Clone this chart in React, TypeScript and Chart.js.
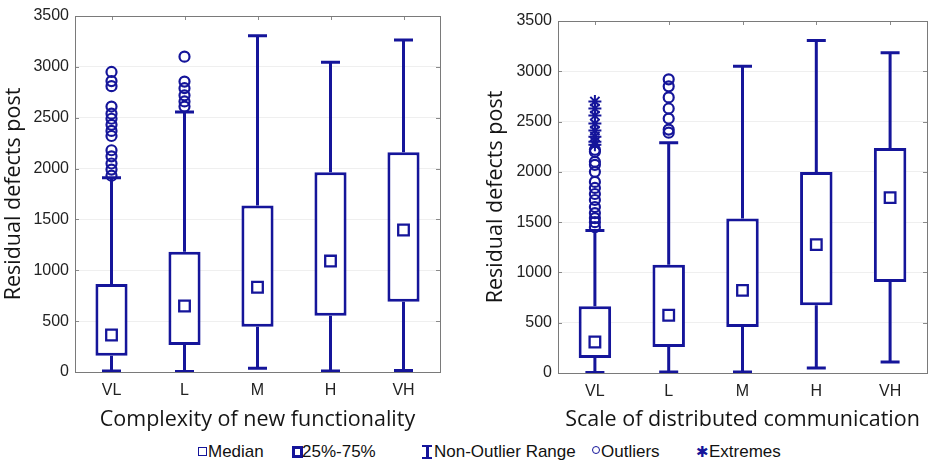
import React, { useEffect, useRef } from 'react';
import { Chart, registerables } from 'chart.js';

Chart.register(...registerables);

// ---------- data ----------
const categories = ['VL', 'L', 'M', 'H', 'VH'];
const yTicks = [0, 500, 1000, 1500, 2000, 2500, 3000, 3500];

// Left: Complexity of new functionality
const complexityQ1 = [160, 265, 446, 554, 691];
const complexityQ3 = [865, 1183, 1636, 1963, 2160];
const complexityMedian = [364, 649, 833, 1091, 1396];
const complexityLow = [10, 5, 36, 10, 15];
const complexityHigh = [1910, 2555, 3307, 3045, 3264];
const complexityOutliersVL = [1930, 1990, 2050, 2120, 2180, 2320, 2370, 2430, 2490, 2540, 2610, 2810, 2860, 2950];
const complexityOutliersL = [2610, 2660, 2720, 2790, 2855, 3100];

// Right: Scale of distributed communication
const commQ1 = [149, 259, 457, 673, 905];
const commQ3 = [663, 1077, 1535, 1998, 2237];
const commMedian = [308, 574, 822, 1276, 1744];
const commLow = [5, 10, 10, 50, 109];
const commHigh = [1418, 2290, 3049, 3307, 3185];
const commOutliersVL = [1450, 1500, 1540, 1590, 1650, 1720, 1780, 1840, 1900, 2000, 2070, 2100, 2200, 2220];
const commExtremesVL = [2270, 2300, 2350, 2410, 2480, 2560, 2630, 2700];
const commOutliersL = [2390, 2420, 2530, 2630, 2740, 2850, 2920];

const BLUE = '#15159a';
const TICK_FONT = 'Liberation Sans, Arial, sans-serif';
const TITLE_FONT = 'Open Sans, sans-serif';

function makeExtras(q1: number[], q3: number[], low: number[], high: number[]) {
  return {
    id: 'boxExtras',
    beforeDatasetsDraw(chart: any) {
      const { ctx, scales } = chart;
      const x = scales.x;
      const y = scales.y;
      ctx.save();
      ctx.strokeStyle = BLUE;
      ctx.lineWidth = 3;
      ctx.lineCap = 'butt';
      for (let i = 0; i < q1.length; i++) {
        const px = x.getPixelForValue(i);
        const yl = y.getPixelForValue(low[i]);
        const yh = y.getPixelForValue(high[i]);
        const y1 = y.getPixelForValue(q1[i]);
        const y3 = y.getPixelForValue(q3[i]);
        ctx.beginPath();
        ctx.moveTo(px, y1);
        ctx.lineTo(px, yl);
        ctx.moveTo(px, y3);
        ctx.lineTo(px, yh);
        ctx.moveTo(px - 9.5, yl);
        ctx.lineTo(px + 9.5, yl);
        ctx.moveTo(px - 9.5, yh);
        ctx.lineTo(px + 9.5, yh);
        ctx.stroke();
      }
      ctx.restore();
    },
    afterDraw(chart: any) {
      const { ctx, chartArea, scales } = chart;
      const x = scales.x;
      const y = scales.y;
      ctx.save();
      ctx.strokeStyle = '#8a8a8a';
      ctx.lineWidth = 1;
      ctx.beginPath();
      for (const v of yTicks) {
        const py = Math.round(y.getPixelForValue(v)) + 0.5;
        ctx.moveTo(chartArea.left, py);
        ctx.lineTo(chartArea.left + 4, py);
        ctx.moveTo(chartArea.right, py);
        ctx.lineTo(chartArea.right - 4, py);
      }
      for (let i = 0; i < categories.length; i++) {
        const px = Math.round(x.getPixelForValue(i)) + 0.5;
        ctx.moveTo(px, chartArea.top);
        ctx.lineTo(px, chartArea.top + 4);
      }
      ctx.stroke();
      ctx.strokeStyle = '#7a7a7a';
      ctx.strokeRect(
        Math.round(chartArea.left) + 0.5,
        Math.round(chartArea.top) + 0.5,
        Math.round(chartArea.right - chartArea.left),
        Math.round(chartArea.bottom - chartArea.top)
      );
      ctx.restore();
    },
  };
}

type PanelProps = {
  xTitle: string;
  q1: number[];
  q3: number[];
  median: number[];
  low: number[];
  high: number[];
  outliers: { x: string; y: number }[];
  extremes: { x: string; y: number }[];
  width: number;
  height: number;
  yAxisWidth: number;
  xAxisHeight: number;
  padTop: number;
  padRight: number;
  yTitlePad: number;
};

function BoxPanel(p: PanelProps) {
  const ref = useRef<HTMLCanvasElement | null>(null);
  useEffect(() => {
    if (!ref.current) return;
    const boxes = p.q1.map((v, i) => [v, p.q3[i]]);
    const chart = new Chart(ref.current, {
      data: {
        labels: categories,
        datasets: [
          {
            type: 'bar',
            data: boxes as any,
            backgroundColor: '#ffffff',
            borderColor: BLUE,
            borderWidth: 3,
            borderSkipped: false,
            barPercentage: 0.44,
            categoryPercentage: 1,
            order: 3,
          } as any,
          {
            type: 'line',
            data: p.median,
            showLine: false,
            pointStyle: 'rect',
            pointRadius: 7.5,
            pointBorderWidth: 2.3,
            pointBorderColor: BLUE,
            pointBackgroundColor: '#ffffff',
            order: 1,
          } as any,
          {
            type: 'line',
            data: p.outliers as any,
            showLine: false,
            pointStyle: 'circle',
            pointRadius: 5,
            pointBorderWidth: 2.2,
            pointBorderColor: BLUE,
            pointBackgroundColor: 'rgba(0,0,0,0)',
            order: 2,
          } as any,
          {
            type: 'line',
            data: p.extremes as any,
            showLine: false,
            pointStyle: 'star',
            pointRadius: 6.5,
            pointBorderWidth: 2,
            pointBorderColor: BLUE,
            pointBackgroundColor: 'rgba(0,0,0,0)',
            order: 2,
          } as any,
        ],
      },
      options: {
        responsive: false,
        animation: false,
        events: [],
        layout: {
          autoPadding: false,
          padding: { top: p.padTop, right: p.padRight, bottom: 0, left: 0 },
        } as any,
        plugins: {
          legend: { display: false },
          tooltip: { enabled: false },
        },
        scales: {
          x: {
            type: 'category',
            offset: true,
            grid: { display: false, drawTicks: false },
            border: { display: false },
            ticks: {
              padding: 9,
              color: '#222',
              font: { family: TICK_FONT, size: 16 },
              maxRotation: 0,
            },
            title: {
              display: true,
              text: p.xTitle,
              color: '#151515',
              font: { family: TITLE_FONT, size: 21.5 },
              padding: { top: 0, bottom: 7 },
            },
            afterFit: (s: any) => {
              s.height = p.xAxisHeight;
            },
          },
          y: {
            type: 'linear',
            min: 0,
            max: 3500,
            grid: { color: '#efefef', drawTicks: false, lineWidth: 1 },
            border: { display: false },
            ticks: {
              stepSize: 500,
              padding: 6,
              color: '#222',
              font: { family: TICK_FONT, size: 16 },
              callback: (v: any) => String(v),
            },
            title: {
              display: true,
              text: 'Residual defects post',
              color: '#151515',
              font: { family: TITLE_FONT, size: 21.5 },
              padding: { top: p.yTitlePad, bottom: 0 },
            },
            afterFit: (s: any) => {
              s.width = p.yAxisWidth;
            },
          },
        },
      } as any,
      plugins: [makeExtras(p.q1, p.q3, p.low, p.high)],
    });
    return () => chart.destroy();
  }, []);
  return <canvas ref={ref} width={p.width} height={p.height} style={{ width: p.width, height: p.height, display: 'block' }} />;
}

const legendText: React.CSSProperties = {
  position: 'absolute',
  top: 441,
  fontFamily: TICK_FONT,
  fontSize: 17,
  lineHeight: '22px',
  color: '#111',
  whiteSpace: 'nowrap',
};

export default function App() {
  const leftOutliers = [
    ...complexityOutliersVL.map((v) => ({ x: 'VL', y: v })),
    ...complexityOutliersL.map((v) => ({ x: 'L', y: v })),
  ];
  const rightOutliers = [
    ...commOutliersVL.map((v) => ({ x: 'VL', y: v })),
    ...commOutliersL.map((v) => ({ x: 'L', y: v })),
  ];
  const rightExtremes = commExtremesVL.map((v) => ({ x: 'VL', y: v }));

  return (
    <div style={{ position: 'fixed', left: 0, top: 0, width: 929, height: 461, background: '#fff', overflow: 'hidden' }}>
      <div style={{ position: 'absolute', left: 0, top: 0 }}>
        <BoxPanel
          xTitle="Complexity of new functionality"
          q1={complexityQ1}
          q3={complexityQ3}
          median={complexityMedian}
          low={complexityLow}
          high={complexityHigh}
          outliers={leftOutliers}
          extremes={[]}
          width={465}
          height={440}
          yAxisWidth={75}
          xAxisHeight={68}
          padTop={16}
          padRight={25}
          yTitlePad={1}
        />
      </div>
      <div style={{ position: 'absolute', left: 480, top: 0 }}>
        <BoxPanel
          xTitle="Scale of distributed communication"
          q1={commQ1}
          q3={commQ3}
          median={commMedian}
          low={commLow}
          high={commHigh}
          outliers={rightOutliers}
          extremes={rightExtremes}
          width={449}
          height={440}
          yAxisWidth={78}
          xAxisHeight={67}
          padTop={21}
          padRight={2}
          yTitlePad={3}
        />
      </div>
      {/* legend */}
      <span style={{ position: 'absolute', left: 198, top: 447, width: 7, height: 7, border: `1.5px solid ${BLUE}` }} />
      <span style={{ ...legendText, left: 208 }}>Median</span>
      <span style={{ position: 'absolute', left: 292, top: 446, width: 5, height: 6, border: `3px solid ${BLUE}` }} />
      <span style={{ ...legendText, left: 302 }}>25%-75%</span>
      <span style={{ position: 'absolute', left: 422, top: 445, width: 10, height: 10, borderTop: `2.5px solid ${BLUE}`, borderBottom: `2.5px solid ${BLUE}` }}>
        <span style={{ position: 'absolute', left: 4, top: 0, width: 2.5, height: 10, background: BLUE }} />
      </span>
      <span style={{ ...legendText, left: 434 }}>Non-Outlier Range</span>
      <span style={{ position: 'absolute', left: 592, top: 446, width: 6, height: 6, borderRadius: '50%', border: `1.6px solid ${BLUE}` }} />
      <span style={{ ...legendText, left: 601 }}>Outliers</span>
      <span style={{ ...legendText, left: 696, color: BLUE, fontFamily: 'DejaVu Sans, sans-serif', fontSize: 15, fontWeight: 'bold' }}>✱</span>
      <span style={{ ...legendText, left: 709 }}>Extremes</span>
    </div>
  );
}
